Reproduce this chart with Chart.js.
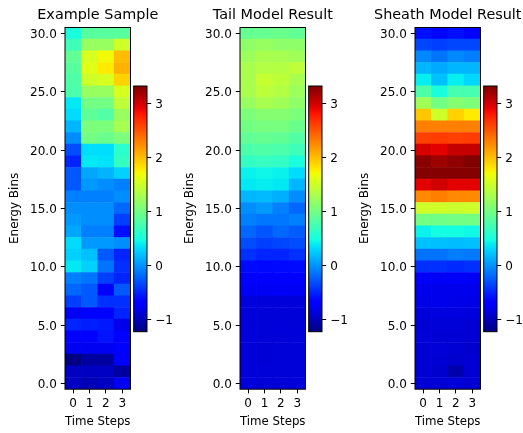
<!DOCTYPE html>
<html>
<head>
<meta charset="utf-8">
<script src="https://cdn.jsdelivr.net/npm/chart.js@4.4.1/dist/chart.umd.min.js"></script>
<style>
  html, body { margin: 0; padding: 0; background: #fff; }
  #fig { position: relative; width: 523px; height: 433px; overflow: hidden; }
  #fig canvas { position: absolute; top: 0; }
</style>
</head>
<body>
<div id="fig"></div>
<script>
// Heatmap data, rows = energy bin 0..30 (bottom to top), columns = time steps 0..3
const timeSteps = ['0', '1', '2', '3'];
const energyBins = [0, 1, 2, 3, 4, 5, 6, 7, 8, 9, 10, 11, 12, 13, 14, 15,
                    16, 17, 18, 19, 20, 21, 22, 23, 24, 25, 26, 27, 28, 29, 30];
const yTicks = [0, 5, 10, 15, 20, 25, 30];
const cbTicks = [-1, 0, 1, 2, 3];
const vMin = -1.23;
const vMax = 3.32;
const panelTitles = ['Example Sample', 'Tail Model Result', 'Sheath Model Result'];

const exampleSample = [
  [-0.97, -1.02, -0.97, -0.77],
  [-0.97, -0.97, -0.97, -1.10],
  [-1.23, -1.10, -1.10, -0.70],
  [-0.78, -0.78, -0.78, -0.66],
  [-0.72, -0.72, -0.58, -0.66],
  [-0.50, -0.53, -0.56, -0.80],
  [-0.78, -0.66, -0.66, -0.50],
  [-0.38, -0.27, -0.45, -0.45],
  [-0.20, -0.27, -0.66, -0.27],
  [-0.09, -0.15, -0.38, -0.50],
  [0.38, 0.27, -0.15, -0.45],
  [0.27, 0.20, -0.27, -0.50],
  [0.32, 0.02, 0.02, -0.03],
  [0.08, -0.09, -0.09, -0.60],
  [0.02, -0.03, -0.03, -0.38],
  [-0.03, -0.03, -0.03, -0.20],
  [-0.09, -0.09, -0.09, -0.03],
  [-0.27, 0.02, -0.03, -0.09],
  [-0.27, 0.08, 0.14, 0.27],
  [-0.50, 0.38, 0.35, 0.65],
  [-0.32, 0.33, 0.33, 0.60],
  [-0.03, 1.00, 0.95, 1.05],
  [0.15, 1.05, 1.05, 1.28],
  [0.32, 0.88, 0.82, 1.20],
  [0.38, 1.00, 1.00, 1.42],
  [0.78, 1.20, 1.20, 1.55],
  [0.80, 1.50, 1.55, 1.90],
  [0.85, 1.60, 1.78, 2.05],
  [0.90, 1.55, 1.70, 2.00],
  [0.70, 1.20, 1.20, 1.50],
  [0.50, 0.85, 0.85, 0.85]
];

const tailModel = [
  [-0.87, -0.88, -0.88, -0.87],
  [-0.88, -0.88, -0.88, -0.88],
  [-0.88, -0.89, -0.88, -0.88],
  [-0.88, -0.90, -0.88, -0.88],
  [-0.87, -0.88, -0.88, -0.87],
  [-0.88, -0.88, -0.87, -0.88],
  [-0.87, -0.88, -0.88, -0.88],
  [-0.86, -0.87, -0.87, -0.87],
  [-0.76, -0.76, -0.75, -0.76],
  [-0.72, -0.74, -0.73, -0.73],
  [-0.62, -0.63, -0.62, -0.62],
  [-0.45, -0.50, -0.50, -0.45],
  [-0.32, -0.38, -0.35, -0.32],
  [-0.20, -0.28, -0.20, -0.25],
  [-0.09, -0.13, -0.13, -0.09],
  [-0.03, 0.02, -0.09, -0.20],
  [0.15, 0.17, 0.12, -0.03],
  [0.38, 0.40, 0.38, 0.15],
  [0.42, 0.44, 0.42, 0.32],
  [0.65, 0.66, 0.64, 0.50],
  [0.78, 0.80, 0.78, 0.70],
  [0.90, 0.92, 0.90, 0.82],
  [1.00, 1.02, 1.02, 0.95],
  [1.05, 1.10, 1.10, 1.05],
  [1.20, 1.30, 1.25, 1.15],
  [1.30, 1.40, 1.35, 1.22],
  [1.30, 1.45, 1.40, 1.30],
  [1.30, 1.35, 1.35, 1.42],
  [1.22, 1.30, 1.28, 1.25],
  [1.15, 1.20, 1.15, 1.15],
  [0.92, 0.92, 0.95, 0.90]
];

const sheathModel = [
  [-0.90, -0.90, -0.88, -0.90],
  [-0.90, -0.92, -1.05, -0.90],
  [-0.90, -0.90, -0.92, -0.90],
  [-0.90, -0.88, -0.90, -0.92],
  [-0.88, -0.90, -0.90, -0.90],
  [-0.90, -0.88, -0.88, -0.90],
  [-0.87, -0.85, -0.85, -0.86],
  [-0.82, -0.80, -0.82, -0.82],
  [-0.80, -0.80, -0.80, -0.80],
  [-0.75, -0.76, -0.75, -0.76],
  [-0.45, -0.45, -0.48, -0.45],
  [-0.15, -0.15, -0.10, -0.12],
  [0.20, 0.20, 0.18, 0.20],
  [0.42, 0.48, 0.48, 0.45],
  [1.00, 0.98, 1.00, 1.00],
  [1.50, 1.50, 1.48, 1.50],
  [2.25, 2.30, 2.25, 2.25],
  [2.93, 3.00, 2.93, 2.93],
  [3.30, 3.30, 3.30, 3.30],
  [3.28, 3.20, 3.25, 3.32],
  [2.98, 2.93, 3.05, 3.05],
  [2.60, 2.62, 2.60, 2.62],
  [2.30, 2.30, 2.30, 2.30],
  [1.95, 1.50, 1.90, 1.78],
  [1.25, 1.00, 1.10, 1.05],
  [0.80, 0.50, 0.75, 0.75],
  [0.40, 0.20, 0.40, 0.30],
  [0.15, 0.10, 0.15, 0.15],
  [-0.05, -0.15, -0.05, -0.10],
  [-0.35, -0.38, -0.35, -0.35],
  [-0.60, -0.65, -0.60, -0.70]
];

const panelValues = [exampleSample, tailModel, sheathModel];

// matplotlib 'jet' colormap
const JET_R = [[0, 0], [0.35, 0], [0.66, 1], [0.89, 1], [1, 0.5]];
const JET_G = [[0, 0], [0.125, 0], [0.375, 1], [0.64, 1], [0.91, 0], [1, 0]];
const JET_B = [[0, 0.5], [0.11, 1], [0.34, 1], [0.65, 0], [1, 0]];

function interp(pts, t) {
  for (let i = 1; i < pts.length; i++) {
    if (t <= pts[i][0]) {
      const [x0, y0] = pts[i - 1], [x1, y1] = pts[i];
      return y0 + (y1 - y0) * (t - x0) / (x1 - x0);
    }
  }
  return pts[pts.length - 1][1];
}

function jet(t) {
  t = Math.min(1, Math.max(0, t));
  const c = [JET_R, JET_G, JET_B].map(p => Math.round(interp(p, t) * 255));
  return 'rgb(' + c.join(',') + ')';
}

function valueColor(v) {
  return jet((v - vMin) / (vMax - vMin));
}

Chart.defaults.font.family = "'DejaVu Sans', sans-serif";
Chart.defaults.color = '#000';

// black box around the plot area, like matplotlib spines
const framePlugin = {
  id: 'frame',
  afterDraw(chart) {
    const { ctx, chartArea: a } = chart;
    ctx.save();
    ctx.strokeStyle = '#000';
    ctx.lineWidth = 1;
    ctx.strokeRect(a.left, a.top, a.right - a.left, a.bottom - a.top);
    ctx.restore();
  }
};

// axes title centred over the plot area (matplotlib style)
const axesTitlePlugin = {
  id: 'axesTitle',
  afterDraw(chart, args, opts) {
    const { ctx, chartArea: a } = chart;
    ctx.save();
    ctx.fillStyle = '#000';
    ctx.font = "14.4px 'DejaVu Sans', sans-serif";
    ctx.textAlign = 'center';
    ctx.textBaseline = 'alphabetic';
    ctx.fillText(opts.text, (a.left + a.right) / 2, a.top - 8.2);
    ctx.restore();
  }
};

// colorbar fill, mapped through the colorbar's y scale
const jetFillPlugin = {
  id: 'jetFill',
  beforeDatasetsDraw(chart) {
    const { ctx, chartArea: a, scales: { y } } = chart;
    const g = ctx.createLinearGradient(0, y.getPixelForValue(vMin), 0, y.getPixelForValue(vMax));
    for (let i = 0; i <= 64; i++) g.addColorStop(i / 64, jet(i / 64));
    ctx.save();
    ctx.fillStyle = g;
    ctx.fillRect(a.left, a.top, a.right - a.left, a.bottom - a.top);
    ctx.restore();
  }
};

const tickGrid = { display: true, drawOnChartArea: false, tickLength: 4.2, tickColor: '#000', tickWidth: 1, offset: false };

function makeCanvas(left, width) {
  const c = document.createElement('canvas');
  c.width = width;
  c.height = 433;
  c.style.left = left + 'px';
  c.style.width = width + 'px';
  c.style.height = '433px';
  document.getElementById('fig').appendChild(c);
  return c;
}

function heatChart(left, title, values) {
  const canvas = makeCanvas(left, 175);
  const datasets = energyBins.map((e, r) => ({
    data: timeSteps.map(() => [e - 0.5, e + 0.5]),
    backgroundColor: values[r].map(valueColor),
    borderWidth: 0,
    barPercentage: 1,
    categoryPercentage: 1,
    grouped: false
  }));
  return new Chart(canvas, {
    type: 'bar',
    data: { labels: timeSteps, datasets },
    plugins: [framePlugin, axesTitlePlugin],
    options: {
      responsive: false,
      animation: false,
      devicePixelRatio: 1,
      layout: { padding: { top: 27.5, right: 44.5 } },
      plugins: {
        legend: { display: false },
        tooltip: { enabled: false },
        axesTitle: { text: title }
      },
      scales: {
        x: {
          type: 'category',
          offset: true,
          grid: tickGrid,
          border: { display: false },
          ticks: { color: '#000', font: { size: 12 }, padding: 3, maxRotation: 0, autoSkip: false },
          title: { display: true, text: 'Time Steps', color: '#000', font: { size: 12 }, padding: { top: 0, bottom: 3.5 } },
          afterFit(s) { s.height = 43.8; }
        },
        y: {
          type: 'linear',
          min: -0.5,
          max: 30.5,
          grid: tickGrid,
          border: { display: false },
          afterBuildTicks(s) { s.ticks = yTicks.map(v => ({ value: v })); },
          ticks: { color: '#000', font: { size: 12 }, padding: 4, labelOffset: 1.5, callback: v => Number(v).toFixed(1) },
          title: { display: true, text: 'Energy Bins', color: '#000', font: { size: 12 }, padding: { top: 7.5, bottom: 0 } },
          afterFit(s) { s.width = 65; }
        }
      }
    }
  });
}

function colorbarChart(left) {
  const canvas = makeCanvas(left, 55);
  return new Chart(canvas, {
    type: 'bar',
    data: { labels: [''], datasets: [] },
    plugins: [jetFillPlugin, framePlugin],
    options: {
      responsive: false,
      animation: false,
      devicePixelRatio: 1,
      layout: { padding: { left: 13.7, top: 86, bottom: 101.3, right: 0 } },
      plugins: { legend: { display: false }, tooltip: { enabled: false } },
      scales: {
        x: { display: false },
        y: {
          position: 'right',
          min: vMin,
          max: vMax,
          grid: tickGrid,
          border: { display: false },
          afterBuildTicks(s) { s.ticks = cbTicks.map(v => ({ value: v })); },
          ticks: { color: '#000', font: { size: 12 }, padding: 4, labelOffset: 1.5, callback: v => (v < 0 ? '\u2212' + Math.abs(v) : String(v)) },
          afterFit(s) { s.width = 55 - 13.7 - 13.3; }
        }
      }
    }
  });
}

const panelLefts = [0, 175, 349.5];
panelLefts.forEach((x, i) => {
  heatChart(x, panelTitles[i], panelValues[i]);
});
panelLefts.forEach(x => colorbarChart(x + 120));
</script>
</body>
</html>
